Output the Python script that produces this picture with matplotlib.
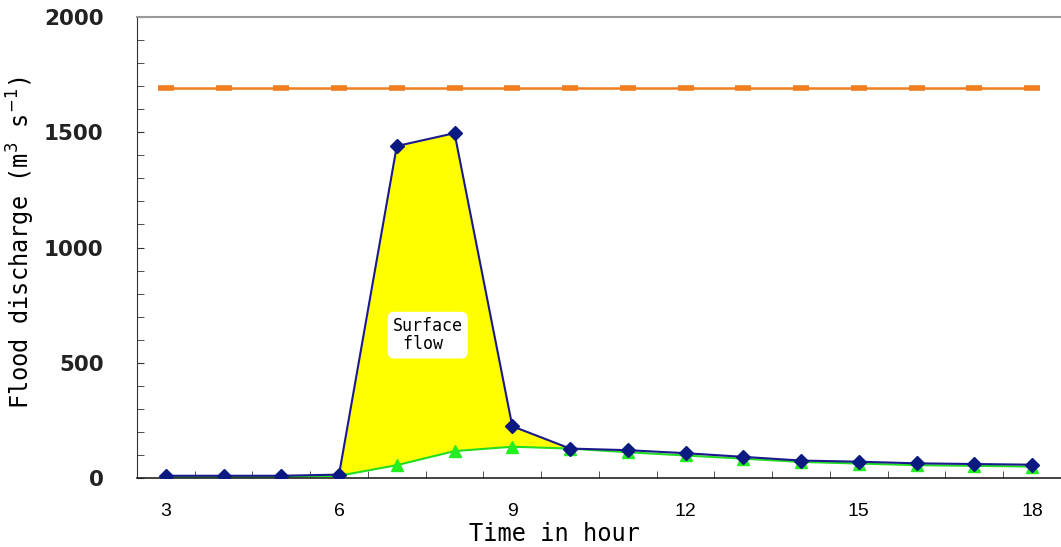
import numpy as np
import matplotlib
matplotlib.use("Agg")
import matplotlib.pyplot as plt
from matplotlib.ticker import MultipleLocator, FixedLocator

# data
hours = [3, 4, 5, 6, 7, 8, 9, 10, 11, 12, 13, 14, 15, 16, 17, 18]
total_flow = [10, 10, 10, 15, 1440, 1496, 225, 128, 121, 108, 92, 76, 71, 64, 61, 58]
base_flow = [5, 5, 5, 10, 56, 117, 136, 128, 112, 98, 84, 70, 63, 56, 53, 50]
capacity = [1690] * len(hours)
x_labels = [3, 6, 9, 12, 15, 18]

hours_arr = np.array(hours)

fig = plt.figure(figsize=(10.61, 5.47), dpi=100)
ax = fig.add_axes([0.129, 0.126, 0.871, 0.843])

# surface flow area between total and base flow
ax.fill_between(hours, base_flow, total_flow,
                where=(hours_arr >= 6) & (hours_arr <= 10),
                color="#ffff00", linewidth=0, zorder=1)

ax.plot(hours, base_flow, color="#22dd22", lw=1.5, marker="^",
        markersize=8, markerfacecolor="#22ee22", markeredgecolor="#22ee22", zorder=2)
ax.plot(hours, total_flow, color="#1a1a8c", lw=1.5, marker="D",
        markersize=7.5, markerfacecolor="#0a1a80", markeredgecolor="#0a1a80", zorder=3)
ax.plot(hours, capacity, color="#f07d1e", lw=1.8, marker="_",
        markersize=11, markeredgewidth=4, zorder=4)

ax.text(6.93, 620, "Surface\n flow", family="DejaVu Sans Mono", fontsize=12,
        ha="left", va="center", linespacing=1.05,
        bbox=dict(boxstyle="round,pad=0.3,rounding_size=0.4", fc="white", ec="none"),
        zorder=5)

ax.set_xlim(2.5, 18.5)
ax.set_ylim(0, 2000)

ax.xaxis.set_major_locator(FixedLocator(x_labels))
ax.xaxis.set_minor_locator(FixedLocator(np.arange(3.5, 18.5, 1.0)))
ax.tick_params(axis="x", which="major", length=0, pad=18, labelsize=14)
ax.tick_params(axis="x", which="minor", direction="in", length=5, color="#333333")
for lab in ax.get_xticklabels():
    lab.set_family("Liberation Sans")

ax.yaxis.set_major_locator(MultipleLocator(500))
ax.yaxis.set_minor_locator(MultipleLocator(100))
ax.tick_params(axis="y", which="both", direction="in", length=5, color="#333333",
               labelsize=15.5, pad=24)
for lab in ax.get_yticklabels():
    lab.set_family("DejaVu Sans")
    lab.set_fontweight("bold")
    lab.set_color("#222222")

ax.spines["right"].set_visible(False)
ax.spines["top"].set_color("#999999")
ax.spines["top"].set_linewidth(1.5)
ax.spines["left"].set_color("#333333")
ax.spines["bottom"].set_color("#222222")
ax.spines["bottom"].set_linewidth(1.2)

ax.set_xlabel("Time in hour", family="DejaVu Sans Mono", fontsize=17, labelpad=0)
ax.xaxis.set_label_coords(0.452, -0.095)
ax.set_ylabel("Flood discharge (m$^3$ s$^{-1}$)", family="DejaVu Sans Mono", fontsize=17)
ax.yaxis.set_label_coords(-0.108, 0.51)

fig.savefig("out.png", dpi=100)
